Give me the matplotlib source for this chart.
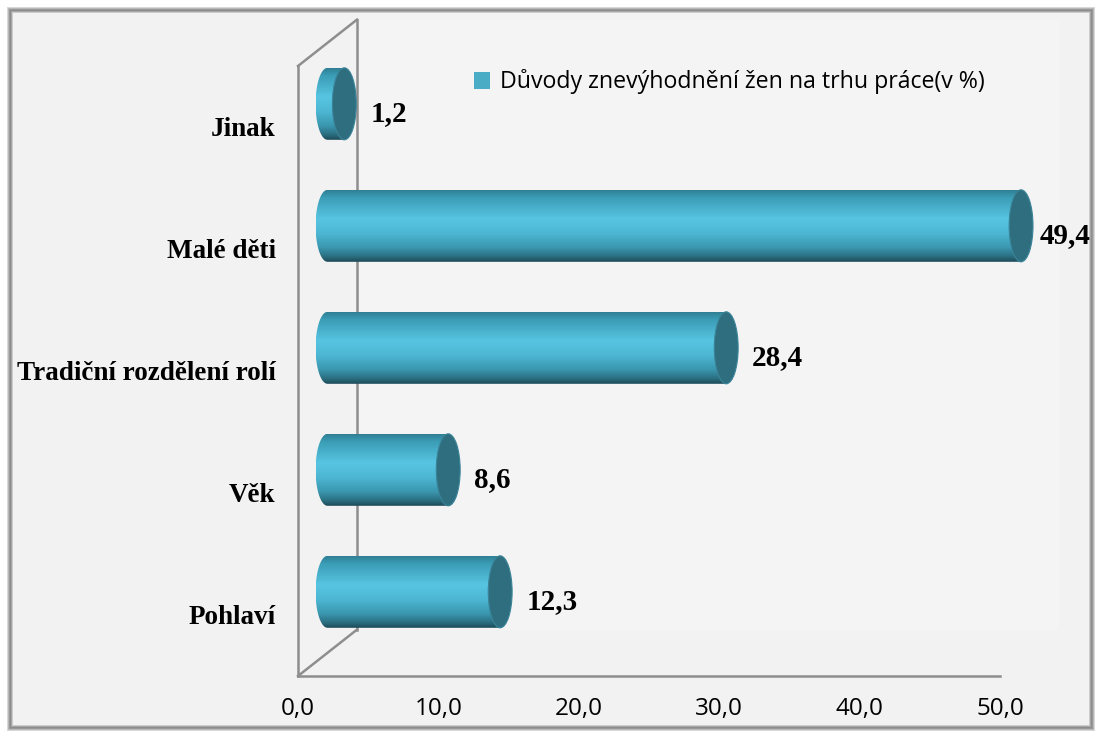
import numpy as np
import matplotlib.pyplot as plt
from matplotlib.patches import Ellipse, PathPatch, Rectangle, Patch
from matplotlib.path import Path
from matplotlib.colors import LinearSegmentedColormap

categories = ['Pohlaví', 'Věk', 'Tradiční rozdělení rolí', 'Malé děti', 'Jinak']
values = [12.3, 8.6, 28.4, 49.4, 1.2]
value_labels = ['12,3', '8,6', '28,4', '49,4', '1,2']
xticks = [0, 10, 20, 30, 40, 50]
xtick_labels = ['0,0', '10,0', '20,0', '30,0', '40,0', '50,0']
legend_label = 'Důvody znevýhodnění žen na trhu práce(v %)'

W, H = 1095, 733
fig = plt.figure(figsize=(W / 100, H / 100), dpi=100)
fig.patch.set_facecolor('white')

# outer frame with a soft grey shadow
for i, c in enumerate(['#d8d8d8', '#b8b8b8', '#999999', '#8c8c8c', '#a6a6a6', '#cccccc']):
    fig.patches.append(Rectangle(((7 + i) / W, (2 + i) / H), (1088 - 2 * i) / W, (724 - 2 * i) / H,
                                 transform=fig.transFigure, facecolor=c, edgecolor='none', zorder=-2))
fig.patches.append(Rectangle((13 / W, 8 / H), 1076 / W, 712 / H, transform=fig.transFigure,
                             facecolor='#f2f2f2', edgecolor='none', zorder=-1))

ax = fig.add_axes([298 / W, (H - 676) / H, 702 / W, 610 / H])
ax.patch.set_visible(False)
for s in ax.spines.values():
    s.set_visible(False)

# 3d box geometry (data units)
bx, by = 4.2, 0.38          # back wall offset
mx, my = 2.1, 0.19          # bars sit halfway in depth
lc = '#8e8e8e'
ax.add_patch(Rectangle((bx, -0.5 + by), 50, 5, facecolor='#f4f4f4', edgecolor='none',
                       zorder=0, clip_on=False))
ax.plot([0, 0], [-0.5, 4.5], color=lc, lw=1.8, clip_on=False, zorder=1)
ax.plot([0, 50], [-0.5, -0.5], color=lc, lw=1.8, clip_on=False, zorder=1)
ax.plot([0, bx], [-0.5, -0.5 + by], color=lc, lw=1.8, clip_on=False, zorder=1)
ax.plot([0, bx], [4.5, 4.5 + by], color=lc, lw=1.8, clip_on=False, zorder=1)
ax.plot([bx, bx], [-0.5 + by, 4.5 + by], color=lc, lw=1.8, clip_on=False, zorder=1)

cmap = LinearSegmentedColormap.from_list('cyl', [
    (0.0, '#2f7f94'), (0.1, '#3b9cb5'), (0.4, '#57c5e2'), (0.6, '#4db7d3'),
    (0.8, '#3a97af'), (0.93, '#2a6c7e'), (1.0, '#1d4a57')])
grad = np.linspace(0, 1, 256).reshape(-1, 1)

ypos = np.arange(len(categories))
half = 0.295
a = 0.85
bars = ax.barh(ypos + my, values, left=mx, height=2 * half, color='none', zorder=2)
for bar in bars:
    bar.set_clip_on(False)
    x0 = bar.get_x()
    x1 = x0 + bar.get_width()
    y0 = bar.get_y()
    y1 = y0 + bar.get_height()
    yc = (y0 + y1) / 2
    t = np.linspace(np.pi / 2, 3 * np.pi / 2, 40)
    verts = [(x1, y1)] + [(x0 + a * np.cos(tt), yc + half * np.sin(tt)) for tt in t] + [(x1, y0), (x1, y1)]
    clip = PathPatch(Path(verts), facecolor='none', edgecolor='none', transform=ax.transData)
    ax.add_patch(clip)
    im = ax.imshow(grad, cmap=cmap, extent=[x0 - a, x1, y0, y1], aspect='auto',
                   origin='upper', zorder=3, interpolation='bilinear')
    im.set_clip_box(fig.bbox)
    im.set_clip_path(clip)
    ax.add_patch(Ellipse((x1, yc), 2 * a, 2 * half, facecolor='#2f6e7f',
                         edgecolor='#3a8499', lw=0.8, zorder=4, clip_on=False))

for y, v, lab in zip(ypos, values, value_labels):
    lx = min(v + mx + 1.85, 52.85)
    ax.text(lx, y + my - 0.08, lab, ha='left', va='center', fontsize=21,
            fontweight='bold', family='Liberation Serif', color='black', clip_on=False)

ax.set_xlim(0, 50)
ax.set_ylim(-0.5, 4.5)
ax.set_yticks(ypos)
ax.set_yticklabels(categories, fontsize=19.5, fontweight='bold', family='Liberation Serif')
ax.set_xticks(xticks)
ax.set_xticklabels(xtick_labels, fontsize=17.5, family='Open Sans')
ax.tick_params(axis='both', length=0)
ax.tick_params(axis='y', pad=16)
ax.tick_params(axis='x', pad=15)

fig.legend(handles=[Patch(facecolor='#4bacc6', edgecolor='none')], labels=[legend_label],
           loc='center left', bbox_to_anchor=(474 / W, 1 - 82 / H), frameon=False,
           prop={'family': 'Open Sans', 'size': 16.7}, handlelength=0.7, handleheight=0.7,
           handletextpad=0.4, borderpad=0, borderaxespad=0)

fig.savefig('out.png', dpi=100)
